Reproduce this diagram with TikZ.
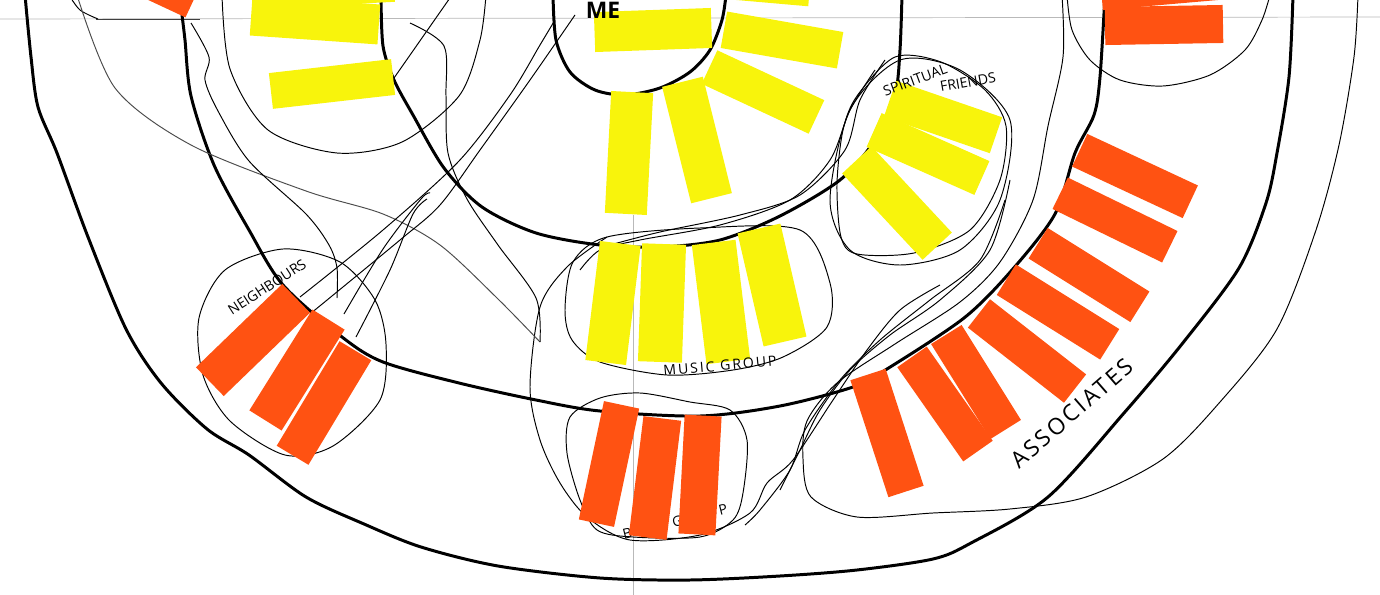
\documentclass[tikz,border=0pt]{standalone}
\usepackage{fontspec}
\setsansfont{Open Sans}
\usetikzlibrary{positioning}
\definecolor{noteyellow}{RGB}{248,244,12}
\definecolor{noteorange}{RGB}{255,82,18}
\definecolor{foldgray}{RGB}{185,185,185}

\begin{document}
\begin{tikzpicture}[x=0.02cm,y=-0.02cm,
  ring/.style={line width=1.7pt,line join=round,line cap=round},
  loop/.style={line width=0.55pt},
  fold/.style={line width=0.4pt,foldgray},
  note/.style={inner sep=0pt,minimum width=2.4cm,minimum height=0.76cm},
  ynote/.style={note,fill=noteyellow},
  onote/.style={note,fill=noteorange},
  hand/.style={font=\sffamily\fontsize{8}{8}\selectfont,inner sep=0pt},
  spaced/.style={font=\sffamily\fontsize{8}{8}\selectfont\addfontfeature{LetterSpace=14},inner sep=0pt}]
\useasboundingbox (0,0) rectangle (1380,595);
\clip (0,0) rectangle (1380,595);

% folds of the sheet
\draw[fold] (0,19) -- (1380,17);
\draw[fold,black!75] (96,19) -- (200,19);
\draw[fold] (633,215) -- (633,595);

% the four rings
\draw[ring] plot[smooth] coordinates {(553,-5) (556,40) (570,72) (595,90) (625,95) (660,88) (690,72) (710,50) (722,20) (726,-5)};
\draw[ring] plot[smooth] coordinates {(381,-5) (383,46) (394,80) (413,115) (444,168) (482,207) (536,233) (600,245) (660,247) (720,240) (780,216) (840,180) (875,140) (895,95) (900,50) (902,-5)};
\draw[ring] plot[smooth] coordinates {(182,15) (185,40) (191,96) (214,165) (249,230) (283,285) (342,337) (383,362) (459,383) (536,400) (600,411) (700,416) (780,406) (853,387) (887,369) (964,318) (1012,270) (1055,214) (1075,153) (1094,115) (1100,77) (1105,-5)};
\draw[ring] plot[smooth] coordinates {(25,-5) (31,57) (38,107) (57,153) (88,237) (126,329) (161,383) (207,429) (249,455) (306,497) (364,524) (421,547) (498,566) (600,578) (690,580) (780,576) (857,570) (933,559) (971,543) (1048,497) (1124,413) (1182,344) (1239,268) (1266,203) (1277,153) (1289,77) (1293,-5)};

% group outlines
\draw[loop] plot[smooth] coordinates {(69,-5) (80,10) (98,19)};
\draw[loop] plot[smooth] coordinates {(222,-5) (230,69) (268,130) (337,153) (402,142) (459,96) (480,40) (486,-5)};
\draw[loop] plot[smooth cycle] coordinates {(199,318) (225,270) (283,249) (340,262) (375,300) (386,344) (380,400) (333,446) (285,455) (230,421) (203,375)};
\draw[loop] plot[smooth cycle] coordinates {(565,310) (573,262) (607,237) (700,228) (800,230) (830,283) (827,327) (783,357) (733,370) (667,375) (600,362) (572,340)};
\draw[loop] plot[smooth cycle] coordinates {(570,417) (600,398) (640,393) (690,402) (730,410) (747,440) (743,493) (733,520) (700,537) (633,537) (597,530) (580,500) (567,453)};
\draw[loop] plot[smooth cycle] coordinates {(837,184) (843,130) (857,96) (895,57) (941,62) (985,90) (1006,126) (1000,180) (970,230) (914,253) (857,254) (841,237)};
\draw[loop] plot[smooth cycle] coordinates {(830,200) (850,110) (900,60) (960,70) (1010,120) (1000,200) (960,250) (900,265) (850,250)};
\draw[loop] plot[smooth] coordinates {(1067,-5) (1072,30) (1090,60) (1120,80) (1163,86) (1210,75) (1245,50) (1262,20) (1270,-5)};
\draw[loop] plot[smooth] coordinates {(1062,-5) (1063,57) (1048,126) (1033,200) (1000,262) (960,302) (895,344) (837,383) (807,421) (803,459) (811,497) (857,517) (933,513) (1010,509) (1086,497) (1163,459) (1220,402) (1277,329) (1316,230) (1339,145) (1354,57) (1358,-5)};
\draw[loop] plot[smooth] coordinates {(607,237) (567,267) (540,307) (530,387) (540,440) (560,483) (587,517) (630,540) (700,535) (750,513) (767,483) (793,460) (833,400) (867,350) (900,310) (940,285)};

% loose links
\draw[loop,black!70] plot[smooth] coordinates {(77,-5) (115,88) (191,145) (306,191) (383,214) (440,245) (497,298) (540,342)};
\draw[loop] plot[smooth] coordinates {(191,23) (209,57) (205,80) (218,111) (249,161) (306,214) (329,245) (337,268) (337,298)};
\draw[loop] plot[smooth] coordinates {(410,23) (444,46) (446,96) (448,153) (467,199) (498,245) (536,298) (540,342)};
\draw[loop] plot[smooth] coordinates {(300,297) (383,230) (459,161) (510,95) (540,45) (555,20)};
\draw[loop] plot[smooth] coordinates {(310,314) (400,240) (440,205) (480,150) (530,80) (575,15)};
\draw[loop] plot[smooth] coordinates {(344,314) (383,249) (421,199) (430,193)};
\draw[loop] plot[smooth] coordinates {(356,337) (390,270) (413,214) (427,199)};
\draw[loop] (394,78) -- (452,-5);
\draw[loop] plot[smooth] coordinates {(875,70) (850,110) (830,160) (790,200) (720,225) (640,240) (600,250) (580,270)};
\draw[loop] plot[smooth] coordinates {(885,60) (860,100) (845,150) (800,195) (740,215) (660,232) (610,245)};
\draw[loop] plot[smooth] coordinates {(1005,200) (980,260) (930,300) (880,340) (840,380) (805,430) (790,470) (760,510) (745,525)};
\draw[loop] plot[smooth] coordinates {(1010,180) (990,250) (940,300) (890,335) (850,370) (820,410) (800,450) (780,490)};

% label under the notes
\node[spaced,rotate=14] (book) at (675,522) {BOOK GROUP};

% yellow notes
\node[ynote,rotate=3,minimum width=2.44cm] (y3) at (333,-14) {};
\node[ynote,rotate=-4,minimum width=2.56cm,minimum height=0.8cm] (y1) at (315,20) {};
\node[ynote,rotate=6.5,minimum width=2.46cm,minimum height=0.72cm] (y2) at (332,84) {};
\node[ynote,rotate=-5,minimum width=2cm,minimum height=0.72cm] (y9) at (760,-16) {};
\node[ynote,rotate=2,minimum width=2.34cm,minimum height=0.8cm] (y4) at (653,30) {};
\node[ynote,rotate=-10,minimum width=2.36cm,minimum height=0.74cm] (y5) at (782,40) {};
\node[ynote,rotate=-25,minimum width=2.36cm,minimum height=0.74cm] (y6) at (763,92) {};
\node[ynote,rotate=87,minimum width=2.44cm,minimum height=0.84cm] (y7) at (629,153) {};
\node[ynote,rotate=104,minimum height=0.84cm] (y8) at (697,140) {};
\node[ynote,rotate=-19,minimum width=2.24cm] (sf1) at (943,117) {};
\node[ynote,rotate=-24,minimum width=2.36cm,minimum height=0.74cm] (sf2) at (928,154) {};
\node[ynote,rotate=-47,minimum width=2.36cm,minimum height=0.8cm] (sf3) at (897,203) {};
\node[ynote,rotate=83,minimum height=0.82cm] (mg1) at (613,303) {};
\node[ynote,rotate=88,minimum width=2.36cm,minimum height=0.88cm] (mg2) at (662,303) {};
\node[ynote,rotate=97,minimum height=0.88cm] (mg3) at (721,302) {};
\node[ynote,rotate=103,minimum width=2.32cm,minimum height=0.88cm] (mg4) at (772,285) {};

% orange notes
\node[onote,rotate=-25,minimum height=0.84cm] (o1) at (140,-27) {};
\node[onote,rotate=5,minimum width=2.36cm] (o3) at (1160,-14) {};
\node[onote,rotate=1,minimum width=2.36cm] (o2) at (1164,25) {};
\node[onote,rotate=44,minimum height=0.8cm] (nb1) at (253,340) {};
\node[onote,rotate=58,minimum width=2.38cm] (nb2) at (297,370) {};
\node[onote,rotate=59,minimum width=2.44cm,minimum height=0.74cm] (nb3) at (324,403) {};
\node[onote,rotate=78,minimum width=2.42cm,minimum height=0.72cm] (bk1) at (609,464) {};
\node[onote,rotate=83] (bk2) at (655,478) {};
\node[onote,rotate=87,minimum width=2.38cm,minimum height=0.74cm] (bk3) at (700,475) {};
\node[onote,rotate=-25,minimum width=2.44cm,minimum height=0.72cm] (as1) at (1135,176) {};
\node[onote,rotate=-26,minimum width=2.44cm,minimum height=0.7cm] (as2) at (1115,220) {};
\node[onote,rotate=-32,minimum height=0.72cm] (as3) at (1089,275) {};
\node[onote,rotate=-32,minimum width=2.44cm,minimum height=0.72cm] (as4) at (1058,312) {};
\node[onote,rotate=-38,minimum width=2.44cm,minimum height=0.72cm] (as5) at (1027,351) {};
\node[onote,rotate=-58,minimum width=2.24cm,minimum height=0.72cm] (as6) at (976,382) {};
\node[onote,rotate=-55,minimum width=2.3cm,minimum height=0.72cm] (as7) at (945,404) {};
\node[onote,rotate=-72,minimum width=2.46cm,minimum height=0.74cm] (as8) at (887,433) {};

% labels
\node[font=\sffamily\bfseries\fontsize{13}{13}\selectfont,inner sep=0pt,anchor=north] (me) at (603,2) {ME};
\node[hand,rotate=33] (neigh) at (267,287) {NEIGHBOURS};
\node[hand,rotate=20] (spir) at (915,80) {SPIRITUAL};
\node[hand,rotate=10] (friends) at (968,82) {FRIENDS};
\node[spaced,rotate=5] (music) at (720,366) {MUSIC GROUP};
\node[font=\sffamily\fontsize{13}{13}\selectfont\addfontfeature{LetterSpace=12},inner sep=0pt,rotate=41] (assoc) at (1072,413) {ASSOCIATES};
\end{tikzpicture}
\end{document}
